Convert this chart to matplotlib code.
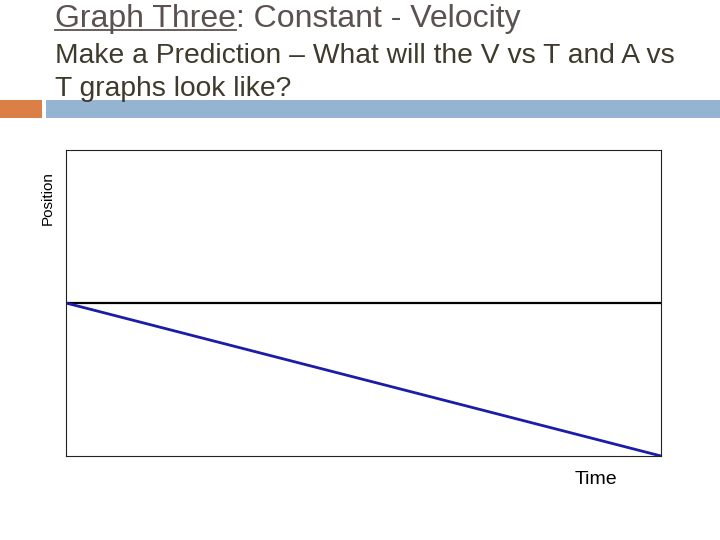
import matplotlib
matplotlib.use('Agg')
from matplotlib import pyplot as plt
from matplotlib.lines import Line2D
from matplotlib.patches import Rectangle

plt.rcParams['font.family'] = ['Liberation Sans', 'DejaVu Sans']

time = [0, 1]
position = [0, -1]

title_main = 'Graph Three'
title_rest = ': Constant - Velocity'
subtitle = ['Make a Prediction \u2013 What will the V vs T and A vs', 'T graphs look like?']

fig = plt.figure(figsize=(7.2, 5.4), dpi=100)
W, H = 720, 540

# slide decoration bars
fig.add_artist(Rectangle((0, 1 - 118 / H), 42 / W, 18 / H, transform=fig.transFigure,
                         facecolor='#db7f47', edgecolor='none'))
fig.add_artist(Rectangle((46 / W, 1 - 118 / H), 1 - 46 / W, 18 / H, transform=fig.transFigure,
                         facecolor='#94b4d2', edgecolor='none'))

# title with underlined first part
t1 = fig.text(55 / W, 1 - 27 / H, title_main, fontsize=23, color='#5b5150', va='baseline', ha='left')
fig.canvas.draw()
r = fig.canvas.get_renderer()
bb = t1.get_window_extent(r)
fig.text(bb.x1 / W, 1 - 27 / H, title_rest, fontsize=23, color='#5b5150', va='baseline', ha='left')
fig.add_artist(Line2D([bb.x0 / W, bb.x1 / W], [1 - 30 / H, 1 - 30 / H], transform=fig.transFigure,
                      color='#5b5150', lw=1.3))

fig.text(55 / W, 1 - 63 / H, subtitle[0], fontsize=20.3, color='#3e3a2c', va='baseline', ha='left')
fig.text(55 / W, 1 - 96 / H, subtitle[1], fontsize=20.3, color='#3e3a2c', va='baseline', ha='left')

ax = fig.add_axes([66 / W, 1 - 456 / H, 595 / W, 306 / H])
ax.plot(time, position, color='#1c1ca6', lw=2)
ax.axhline(0, color='black', lw=1.6, zorder=1)
ax.set_xlim(0, 1)
ax.set_ylim(-1, 1)
ax.set_xticks([])
ax.set_yticks([])
for s in ax.spines.values():
    s.set_linewidth(0.8)
    s.set_color('#222222')

fig.text(48 / W, 1 - 198 / H, 'Position', fontsize=11, rotation=90, va='center', ha='center')
fig.text(596 / W, 1 - 480 / H, 'Time', fontsize=14, va='center', ha='center')

fig.savefig('out.png', dpi=100)
